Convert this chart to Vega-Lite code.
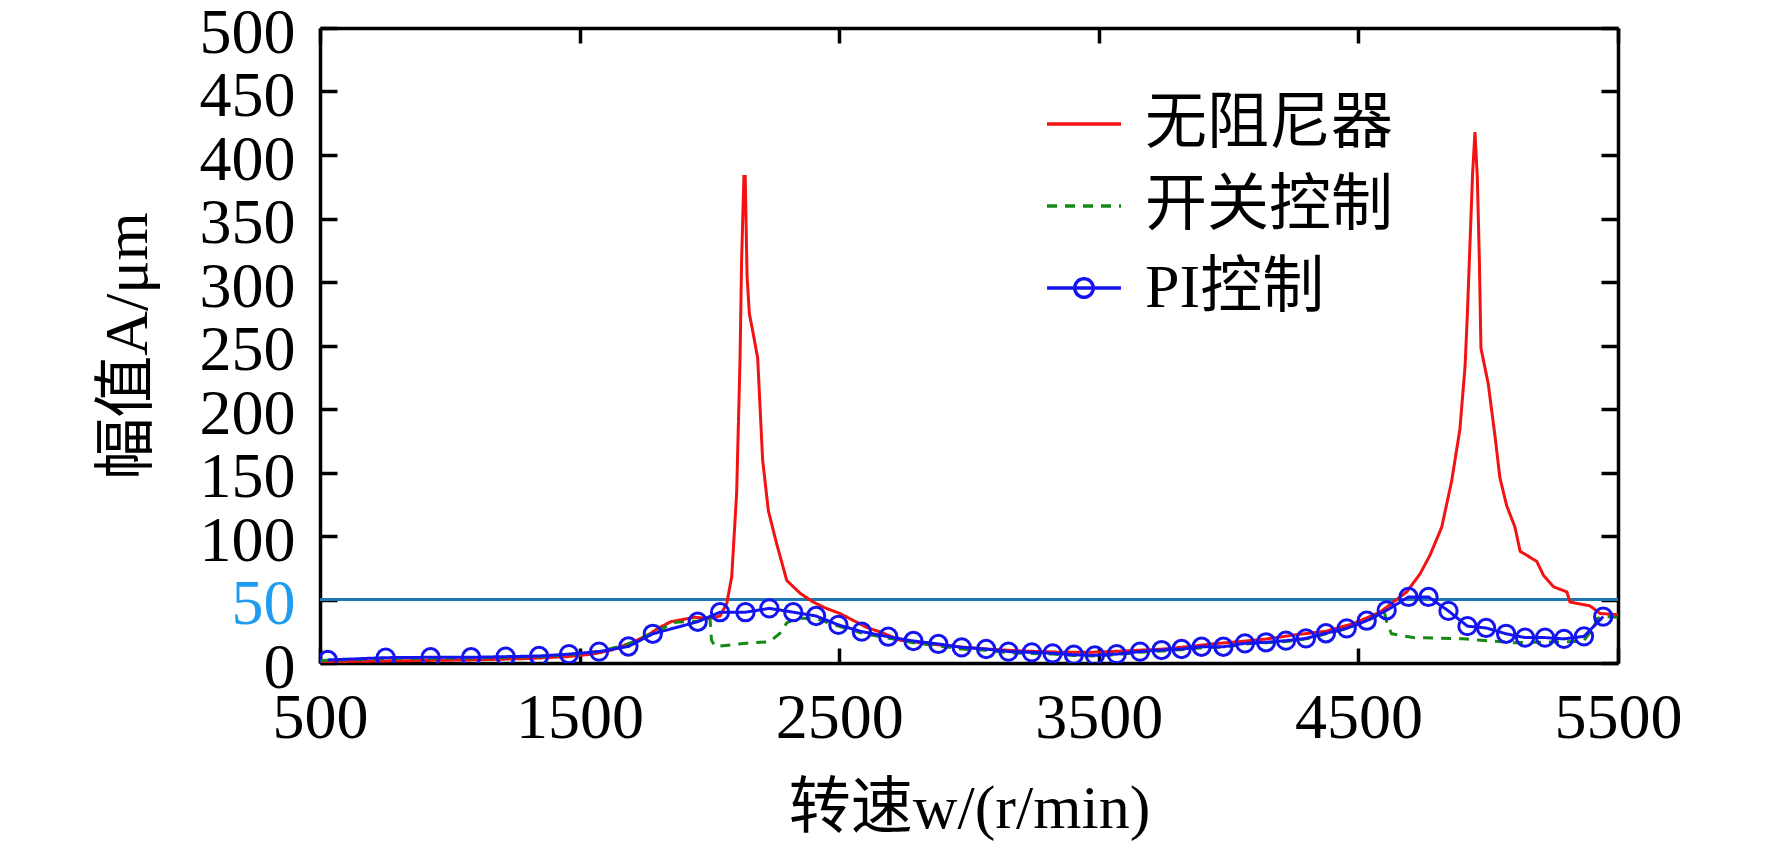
{
  "$schema": "https://vega.github.io/schema/vega-lite/v6.json",
  "description": "幅值-转速曲线：无阻尼器、开关控制与PI控制",
  "width": 1298,
  "height": 635,
  "autosize": {"type": "none"},
  "padding": {"left": 320, "top": 28, "right": 154, "bottom": 190},
  "background": "white",
  "config": {
    "view": {"stroke": null},
    "font": "'Liberation Serif', 'Noto Sans CJK SC', serif"
  },
  "data": {
    "values": [
      {"w": 500, "A": 1, "series": "无阻尼器"},
      {"w": 700, "A": 1.5, "series": "无阻尼器"},
      {"w": 900, "A": 2, "series": "无阻尼器"},
      {"w": 1100, "A": 2.5, "series": "无阻尼器"},
      {"w": 1300, "A": 3.5, "series": "无阻尼器"},
      {"w": 1450, "A": 5, "series": "无阻尼器"},
      {"w": 1550, "A": 7, "series": "无阻尼器"},
      {"w": 1620, "A": 10, "series": "无阻尼器"},
      {"w": 1700, "A": 16, "series": "无阻尼器"},
      {"w": 1764, "A": 22, "series": "无阻尼器"},
      {"w": 1800, "A": 27, "series": "无阻尼器"},
      {"w": 1851, "A": 32.5, "series": "无阻尼器"},
      {"w": 1943, "A": 36, "series": "无阻尼器"},
      {"w": 2000, "A": 35, "series": "无阻尼器"},
      {"w": 2041, "A": 37, "series": "无阻尼器"},
      {"w": 2067, "A": 47, "series": "无阻尼器"},
      {"w": 2086, "A": 68, "series": "无阻尼器"},
      {"w": 2105, "A": 134, "series": "无阻尼器"},
      {"w": 2118, "A": 239, "series": "无阻尼器"},
      {"w": 2124, "A": 317, "series": "无阻尼器"},
      {"w": 2133, "A": 383, "series": "无阻尼器"},
      {"w": 2138, "A": 383, "series": "无阻尼器"},
      {"w": 2145, "A": 305, "series": "无阻尼器"},
      {"w": 2154, "A": 275, "series": "无阻尼器"},
      {"w": 2170, "A": 258, "series": "无阻尼器"},
      {"w": 2186, "A": 240, "series": "无阻尼器"},
      {"w": 2205, "A": 160, "series": "无阻尼器"},
      {"w": 2227, "A": 120, "series": "无阻尼器"},
      {"w": 2259, "A": 94, "series": "无阻尼器"},
      {"w": 2298, "A": 65, "series": "无阻尼器"},
      {"w": 2349, "A": 55, "series": "无阻尼器"},
      {"w": 2400, "A": 48, "series": "无阻尼器"},
      {"w": 2450, "A": 43, "series": "无阻尼器"},
      {"w": 2503, "A": 39, "series": "无阻尼器"},
      {"w": 2606, "A": 28, "series": "无阻尼器"},
      {"w": 2664, "A": 24, "series": "无阻尼器"},
      {"w": 2734, "A": 18, "series": "无阻尼器"},
      {"w": 2850, "A": 15, "series": "无阻尼器"},
      {"w": 2950, "A": 13, "series": "无阻尼器"},
      {"w": 3064, "A": 11, "series": "无阻尼器"},
      {"w": 3200, "A": 9.5, "series": "无阻尼器"},
      {"w": 3350, "A": 8.5, "series": "无阻尼器"},
      {"w": 3477, "A": 8.5, "series": "无阻尼器"},
      {"w": 3600, "A": 9.5, "series": "无阻尼器"},
      {"w": 3750, "A": 11, "series": "无阻尼器"},
      {"w": 3850, "A": 13, "series": "无阻尼器"},
      {"w": 3936, "A": 15, "series": "无阻尼器"},
      {"w": 4050, "A": 17, "series": "无阻尼器"},
      {"w": 4150, "A": 19, "series": "无阻尼器"},
      {"w": 4250, "A": 22, "series": "无阻尼器"},
      {"w": 4375, "A": 25, "series": "无阻尼器"},
      {"w": 4480, "A": 31, "series": "无阻尼器"},
      {"w": 4583, "A": 40, "series": "无阻尼器"},
      {"w": 4622, "A": 46, "series": "无阻尼器"},
      {"w": 4686, "A": 56, "series": "无阻尼器"},
      {"w": 4737, "A": 70, "series": "无阻尼器"},
      {"w": 4776, "A": 85, "series": "无阻尼器"},
      {"w": 4821, "A": 107, "series": "无阻尼器"},
      {"w": 4859, "A": 143, "series": "无阻尼器"},
      {"w": 4891, "A": 184, "series": "无阻尼器"},
      {"w": 4911, "A": 234, "series": "无阻尼器"},
      {"w": 4920, "A": 276, "series": "无阻尼器"},
      {"w": 4930, "A": 331, "series": "无阻尼器"},
      {"w": 4940, "A": 386, "series": "无阻尼器"},
      {"w": 4949, "A": 418, "series": "无阻尼器"},
      {"w": 4958, "A": 383, "series": "无阻尼器"},
      {"w": 4966, "A": 317, "series": "无阻尼器"},
      {"w": 4972, "A": 248, "series": "无阻尼器"},
      {"w": 5000, "A": 220, "series": "无阻尼器"},
      {"w": 5026, "A": 179, "series": "无阻尼器"},
      {"w": 5045, "A": 146, "series": "无阻尼器"},
      {"w": 5071, "A": 124, "series": "无阻尼器"},
      {"w": 5103, "A": 107, "series": "无阻尼器"},
      {"w": 5123, "A": 88, "series": "无阻尼器"},
      {"w": 5187, "A": 80, "series": "无阻尼器"},
      {"w": 5213, "A": 69, "series": "无阻尼器"},
      {"w": 5252, "A": 60, "series": "无阻尼器"},
      {"w": 5303, "A": 56, "series": "无阻尼器"},
      {"w": 5315, "A": 48, "series": "无阻尼器"},
      {"w": 5392, "A": 45, "series": "无阻尼器"},
      {"w": 5431, "A": 39, "series": "无阻尼器"},
      {"w": 5500, "A": 38, "series": "无阻尼器"},

      {"w": 500, "A": 2, "series": "开关控制"},
      {"w": 753, "A": 3.5, "series": "开关控制"},
      {"w": 1082, "A": 4, "series": "开关控制"},
      {"w": 1344, "A": 5, "series": "开关控制"},
      {"w": 1459, "A": 6.5, "series": "开关控制"},
      {"w": 1575, "A": 9, "series": "开关控制"},
      {"w": 1688, "A": 15, "series": "开关控制"},
      {"w": 1782, "A": 24, "series": "开关控制"},
      {"w": 1870, "A": 32, "series": "开关控制"},
      {"w": 1955, "A": 33, "series": "开关控制"},
      {"w": 2002, "A": 36, "series": "开关控制"},
      {"w": 2008, "A": 18, "series": "开关控制"},
      {"w": 2022, "A": 13, "series": "开关控制"},
      {"w": 2143, "A": 15.6, "series": "开关控制"},
      {"w": 2233, "A": 16.8, "series": "开关控制"},
      {"w": 2272, "A": 23.5, "series": "开关控制"},
      {"w": 2298, "A": 31.5, "series": "开关控制"},
      {"w": 2336, "A": 35.4, "series": "开关控制"},
      {"w": 2411, "A": 35, "series": "开关控制"},
      {"w": 2497, "A": 29, "series": "开关控制"},
      {"w": 2587, "A": 23.5, "series": "开关控制"},
      {"w": 2693, "A": 19.5, "series": "开关控制"},
      {"w": 2786, "A": 16, "series": "开关控制"},
      {"w": 2882, "A": 13.5, "series": "开关控制"},
      {"w": 2972, "A": 11, "series": "开关控制"},
      {"w": 3066, "A": 10, "series": "开关控制"},
      {"w": 3152, "A": 8, "series": "开关控制"},
      {"w": 3242, "A": 7.5, "series": "开关控制"},
      {"w": 3322, "A": 7, "series": "开关控制"},
      {"w": 3404, "A": 6, "series": "开关控制"},
      {"w": 3485, "A": 5.5, "series": "开关控制"},
      {"w": 3569, "A": 6.5, "series": "开关控制"},
      {"w": 3659, "A": 8.5, "series": "开关控制"},
      {"w": 3742, "A": 9.5, "series": "开关控制"},
      {"w": 3819, "A": 10.5, "series": "开关控制"},
      {"w": 3896, "A": 12, "series": "开关控制"},
      {"w": 3980, "A": 12.5, "series": "开关控制"},
      {"w": 4063, "A": 15, "series": "开关控制"},
      {"w": 4144, "A": 16, "series": "开关控制"},
      {"w": 4221, "A": 17, "series": "开关控制"},
      {"w": 4298, "A": 19, "series": "开关控制"},
      {"w": 4375, "A": 23, "series": "开关控制"},
      {"w": 4455, "A": 27, "series": "开关控制"},
      {"w": 4532, "A": 33, "series": "开关控制"},
      {"w": 4600, "A": 40, "series": "开关控制"},
      {"w": 4612, "A": 30, "series": "开关控制"},
      {"w": 4628, "A": 23, "series": "开关控制"},
      {"w": 4711, "A": 20, "series": "开关控制"},
      {"w": 4904, "A": 19, "series": "开关控制"},
      {"w": 5096, "A": 16, "series": "开关控制"},
      {"w": 5366, "A": 17, "series": "开关控制"},
      {"w": 5405, "A": 27.6, "series": "开关控制"},
      {"w": 5420, "A": 35, "series": "开关控制"},
      {"w": 5443, "A": 36.5, "series": "开关控制"},
      {"w": 5500, "A": 36, "series": "开关控制"},

      {"w": 530, "A": 2.4, "series": "PI控制"},
      {"w": 753, "A": 4.2, "series": "PI控制"},
      {"w": 926, "A": 4.5, "series": "PI控制"},
      {"w": 1082, "A": 4.5, "series": "PI控制"},
      {"w": 1215, "A": 5, "series": "PI控制"},
      {"w": 1344, "A": 5.5, "series": "PI控制"},
      {"w": 1459, "A": 7, "series": "PI控制"},
      {"w": 1575, "A": 9, "series": "PI控制"},
      {"w": 1688, "A": 13, "series": "PI控制"},
      {"w": 1782, "A": 23, "series": "PI控制"},
      {"w": 1955, "A": 32.5, "series": "PI控制"},
      {"w": 2041, "A": 40, "series": "PI控制"},
      {"w": 2139, "A": 40, "series": "PI控制"},
      {"w": 2231, "A": 43, "series": "PI控制"},
      {"w": 2323, "A": 40, "series": "PI控制"},
      {"w": 2411, "A": 37, "series": "PI控制"},
      {"w": 2497, "A": 30, "series": "PI控制"},
      {"w": 2587, "A": 24.7, "series": "PI控制"},
      {"w": 2689, "A": 20.7, "series": "PI控制"},
      {"w": 2786, "A": 17.3, "series": "PI控制"},
      {"w": 2882, "A": 15, "series": "PI控制"},
      {"w": 2972, "A": 12.3, "series": "PI控制"},
      {"w": 3066, "A": 11, "series": "PI控制"},
      {"w": 3152, "A": 9, "series": "PI控制"},
      {"w": 3242, "A": 8.4, "series": "PI控制"},
      {"w": 3322, "A": 7.6, "series": "PI控制"},
      {"w": 3404, "A": 6.5, "series": "PI控制"},
      {"w": 3485, "A": 6, "series": "PI控制"},
      {"w": 3569, "A": 7, "series": "PI控制"},
      {"w": 3659, "A": 9, "series": "PI控制"},
      {"w": 3742, "A": 10.2, "series": "PI控制"},
      {"w": 3819, "A": 11, "series": "PI控制"},
      {"w": 3896, "A": 12.8, "series": "PI控制"},
      {"w": 3980, "A": 12.8, "series": "PI控制"},
      {"w": 4063, "A": 15.5, "series": "PI控制"},
      {"w": 4144, "A": 16.3, "series": "PI控制"},
      {"w": 4221, "A": 17.6, "series": "PI控制"},
      {"w": 4298, "A": 19.4, "series": "PI控制"},
      {"w": 4375, "A": 23.4, "series": "PI控制"},
      {"w": 4455, "A": 27.3, "series": "PI控制"},
      {"w": 4532, "A": 33.3, "series": "PI控制"},
      {"w": 4609, "A": 41.5, "series": "PI控制"},
      {"w": 4693, "A": 52, "series": "PI控制"},
      {"w": 4770, "A": 52, "series": "PI控制"},
      {"w": 4847, "A": 41, "series": "PI控制"},
      {"w": 4920, "A": 29, "series": "PI控制"},
      {"w": 4992, "A": 27.6, "series": "PI控制"},
      {"w": 5069, "A": 23, "series": "PI控制"},
      {"w": 5142, "A": 20, "series": "PI控制"},
      {"w": 5219, "A": 20, "series": "PI控制"},
      {"w": 5292, "A": 19, "series": "PI控制"},
      {"w": 5369, "A": 21, "series": "PI控制"},
      {"w": 5443, "A": 36.5, "series": "PI控制"}
    ]
  },
  "layer": [
    {
      "mark": {"type": "rule", "color": "#1f77b4", "strokeWidth": 2.5},
      "encoding": {
        "y": {"datum": 50, "type": "quantitative", "axis": null}
      }
    },
    {
      "mark": {"type": "line", "strokeWidth": 3, "clip": true},
      "encoding": {
        "x": {
          "field": "w",
          "type": "quantitative",
          "title": "转速w/(r/min)",
          "scale": {"domain": [500, 5500], "nice": false, "zero": false},
          "axis": {
            "orient": "bottom",
            "values": [500, 1500, 2500, 3500, 4500, 5500],
            "format": "d",
            "grid": false,
            "labelFontSize": 64,
            "labelColor": "black",
            "labelPadding": 38,
            "labelFlush": false,
            "labelOverlap": false,
            "tickSize": -15,
            "tickWidth": 3.5,
            "tickColor": "black",
            "domainColor": "black",
            "domainWidth": 3.5,
            "titleFontSize": 62,
            "titleFontWeight": "normal",
            "titleColor": "black",
            "titlePadding": 28
          }
        },
        "y": {
          "field": "A",
          "type": "quantitative",
          "title": "幅值A/μm",
          "scale": {"domain": [0, 500], "nice": false},
          "axis": {
            "orient": "left",
            "values": [0, 50, 100, 150, 200, 250, 300, 350, 400, 450, 500],
            "grid": false,
            "labelFontSize": 64,
            "labelColor": {"condition": {"test": "datum.value === 50", "value": "#1f9cf0"}, "value": "black"},
            "labelPadding": 42,
            "labelOffset": 5,
            "labelFlush": false,
            "labelOverlap": false,
            "tickSize": -17,
            "tickWidth": 3.5,
            "tickColor": "black",
            "domainColor": "black",
            "domainWidth": 3.5,
            "titleFontSize": 62,
            "titleFontWeight": "normal",
            "titleColor": "black",
            "titlePadding": 40
          }
        },
        "color": {
          "field": "series",
          "type": "nominal",
          "scale": {
            "domain": ["无阻尼器", "开关控制", "PI控制"],
            "range": ["#f21212", "#138a13", "#1414f0"]
          },
          "legend": {
            "title": null,
            "orient": "none",
            "legendX": 725,
            "legendY": 57,
            "labelFontSize": 62,
            "labelColor": "black",
            "labelOffset": 22,
            "labelLimit": 600,
            "rowPadding": 12,
            "symbolType": "stroke",
            "symbolSize": 5476,
            "symbolStrokeWidth": 3.5,
            "encode": {
              "symbols": {
                "update": {
                  "shape": {"signal": "datum.value === 'PI控制' ? 'M-1,0L1,0M-0.25,0A0.25,0.25,0,1,1,0.25,0A0.25,0.25,0,1,1,-0.25,0' : 'stroke'"},
                  "strokeDash": {"signal": "datum.value === '开关控制' ? [5, 4] : [1, 0]"},
                  "fill": {"value": "transparent"}
                }
              }
            }
          }
        },
        "strokeDash": {
          "field": "series",
          "type": "nominal",
          "scale": {
            "domain": ["无阻尼器", "开关控制", "PI控制"],
            "range": [[1, 0], [10, 8], [1, 0]]
          },
          "legend": null
        },
        "order": {"field": "w", "type": "quantitative"}
      }
    },
    {
      "transform": [{"filter": "datum.series === 'PI控制'"}],
      "mark": {"type": "point", "shape": "circle", "filled": false, "color": "#1414f0", "opacity": 1, "strokeWidth": 3, "size": 300, "clip": true},
      "encoding": {
        "x": {
          "field": "w",
          "type": "quantitative",
          "axis": {
            "orient": "top",
            "values": [500, 1500, 2500, 3500, 4500, 5500],
            "labels": false,
            "title": null,
            "grid": false,
            "tickSize": -15,
            "tickWidth": 3.5,
            "tickColor": "black",
            "domainColor": "black",
            "domainWidth": 3.5
          }
        },
        "y": {
          "field": "A",
          "type": "quantitative",
          "axis": {
            "orient": "right",
            "values": [0, 50, 100, 150, 200, 250, 300, 350, 400, 450, 500],
            "labels": false,
            "title": null,
            "grid": false,
            "tickSize": -17,
            "tickWidth": 3.5,
            "tickColor": "black",
            "domainColor": "black",
            "domainWidth": 3.5
          }
        }
      }
    }
  ],
  "resolve": {"axis": {"x": "independent", "y": "independent"}}
}
